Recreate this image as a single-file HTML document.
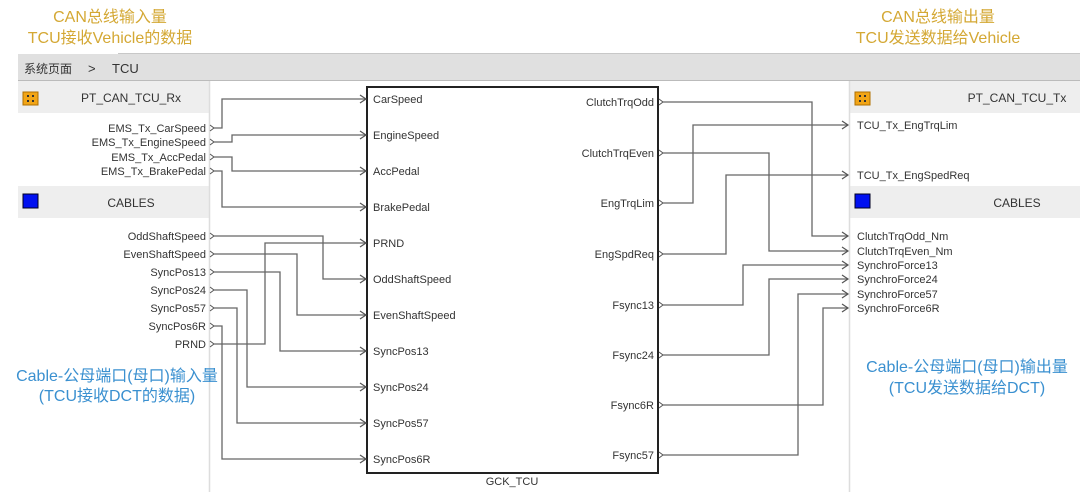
<!DOCTYPE html>
<html><head><meta charset="utf-8"><style>
body{margin:0;width:1080px;height:492px;background:#fff;overflow:hidden}
svg{display:block}
text{font-family:"Liberation Sans","Noto Sans CJK SC",sans-serif;fill:#333}
</style></head><body>
<svg width="1080" height="492" viewBox="0 0 1080 492">
<defs>
<marker id="a" markerWidth="10" markerHeight="10" refX="8" refY="5" orient="auto" markerUnits="userSpaceOnUse">
<path d="M2,1 L8,5 L2,9" fill="none" stroke="#555" stroke-width="1.2"/></marker>
</defs>
<g font-size="16" text-anchor="middle">
<text x="110" y="22" style="fill:#d4a834">CAN总线输入量</text>
<text x="110" y="43" style="fill:#d4a834">TCU接收Vehicle的数据</text>
<text x="938" y="22" style="fill:#d4a834">CAN总线输出量</text>
<text x="938" y="43" style="fill:#d4a834">TCU发送数据给Vehicle</text>
</g>
<rect x="18" y="54" width="1062" height="26" fill="#e0e0e0"/>
<line x1="118" y1="53.5" x2="1080" y2="53.5" stroke="#c8c8c8"/>
<line x1="18" y1="80.5" x2="1080" y2="80.5" stroke="#bbb"/>
<text x="24" y="73" font-size="12">系统页面</text>
<text x="88" y="73" font-size="13">&gt;</text>
<text x="112" y="73" font-size="13">TCU</text>
<rect x="18" y="81" width="191" height="32" fill="#eeeeee"/>
<rect x="18" y="186" width="191" height="32" fill="#eeeeee"/>
<line x1="209.5" y1="81" x2="209.5" y2="492" stroke="#ddd" stroke-width="1.5"/>
<rect x="23" y="92" width="15" height="13" fill="#f2a516" stroke="#b07000"/>
<g fill="#333"><rect x="27" y="95" width="2" height="2"/><rect x="32" y="95" width="2" height="2"/><rect x="27" y="100" width="2" height="2"/><rect x="32" y="100" width="2" height="2"/></g>
<rect x="23" y="194" width="15" height="14" fill="#0010f0" stroke="#002"/>
<g font-size="12" text-anchor="middle"><text x="131" y="102">PT_CAN_TCU_Rx</text><text x="131" y="207">CABLES</text></g>
<g font-size="11" text-anchor="end">
<text x="206" y="132">EMS_Tx_CarSpeed</text>
<text x="206" y="146">EMS_Tx_EngineSpeed</text>
<text x="206" y="161">EMS_Tx_AccPedal</text>
<text x="206" y="175">EMS_Tx_BrakePedal</text>
<text x="206" y="240">OddShaftSpeed</text>
<text x="206" y="258">EvenShaftSpeed</text>
<text x="206" y="276">SyncPos13</text>
<text x="206" y="294">SyncPos24</text>
<text x="206" y="312">SyncPos57</text>
<text x="206" y="330">SyncPos6R</text>
<text x="206" y="348">PRND</text>
</g>
<g font-size="16" text-anchor="middle">
<text x="117" y="381" style="fill:#3a90d0">Cable-公母端口(母口)输入量</text>
<text x="117" y="401" style="fill:#3a90d0">(TCU接收DCT的数据)</text>
<text x="967" y="372" style="fill:#3a90d0">Cable-公母端口(母口)输出量</text>
<text x="967" y="393" style="fill:#3a90d0">(TCU发送数据给DCT)</text>
</g>
<rect x="850" y="81" width="230" height="32" fill="#eeeeee"/>
<rect x="850" y="186" width="230" height="32" fill="#eeeeee"/>
<line x1="849.5" y1="81" x2="849.5" y2="492" stroke="#ddd" stroke-width="1.5"/>
<rect x="855" y="92" width="15" height="13" fill="#f2a516" stroke="#b07000"/>
<g fill="#333"><rect x="859" y="95" width="2" height="2"/><rect x="864" y="95" width="2" height="2"/><rect x="859" y="100" width="2" height="2"/><rect x="864" y="100" width="2" height="2"/></g>
<rect x="855" y="194" width="15" height="14" fill="#0010f0" stroke="#002"/>
<g font-size="12" text-anchor="middle"><text x="1017" y="102">PT_CAN_TCU_Tx</text><text x="1017" y="207">CABLES</text></g>
<g font-size="11">
<text x="857" y="129">TCU_Tx_EngTrqLim</text>
<text x="857" y="179">TCU_Tx_EngSpedReq</text>
<text x="857" y="240">ClutchTrqOdd_Nm</text>
<text x="857" y="255">ClutchTrqEven_Nm</text>
<text x="857" y="269">SynchroForce13</text>
<text x="857" y="283">SynchroForce24</text>
<text x="857" y="298">SynchroForce57</text>
<text x="857" y="312">SynchroForce6R</text>
</g>
<rect x="367" y="87" width="291" height="386" fill="none" stroke="#222" stroke-width="2"/>
<text x="512" y="485" font-size="11" text-anchor="middle">GCK_TCU</text>
<g font-size="11">
<text x="373" y="103">CarSpeed</text>
<text x="373" y="139">EngineSpeed</text>
<text x="373" y="175">AccPedal</text>
<text x="373" y="211">BrakePedal</text>
<text x="373" y="247">PRND</text>
<text x="373" y="283">OddShaftSpeed</text>
<text x="373" y="319">EvenShaftSpeed</text>
<text x="373" y="355">SyncPos13</text>
<text x="373" y="391">SyncPos24</text>
<text x="373" y="427">SyncPos57</text>
<text x="373" y="463">SyncPos6R</text>
</g>
<g font-size="11" text-anchor="end">
<text x="654" y="106">ClutchTrqOdd</text>
<text x="654" y="157">ClutchTrqEven</text>
<text x="654" y="207">EngTrqLim</text>
<text x="654" y="258">EngSpdReq</text>
<text x="654" y="309">Fsync13</text>
<text x="654" y="359">Fsync24</text>
<text x="654" y="409">Fsync6R</text>
<text x="654" y="459">Fsync57</text>
</g>
<g fill="none" stroke="#555" stroke-width="1">
<path d="M210,125 L214,128 L210,131 M210,139 L214,142 L210,145 M210,154 L214,157 L210,160 M210,168 L214,171 L210,174 M210,233 L214,236 L210,239 M210,251 L214,254 L210,257 M210,269 L214,272 L210,275 M210,287 L214,290 L210,293 M210,305 L214,308 L210,311 M210,323 L214,326 L210,329 M210,341 L214,344 L210,347"/>
<path d="M659,99 L663,102 L659,105 M659,150 L663,153 L659,156 M659,200 L663,203 L659,206 M659,251 L663,254 L659,257 M659,302 L663,305 L659,308 M659,352 L663,355 L659,358 M659,402 L663,405 L659,408 M659,452 L663,455 L659,458"/>
</g>
<g fill="none" stroke="#666" stroke-width="1.3" marker-end="url(#a)">
<path d="M214,128 H222 V99 H366"/>
<path d="M214,142 H232 V135 H366"/>
<path d="M214,157 H232 V171 H366"/>
<path d="M214,171 H222 V207 H366"/>
<path d="M214,236 H323 V279 H366"/>
<path d="M214,344 H265 V243 H366"/>
<path d="M214,254 H297 V315 H366"/>
<path d="M214,272 H280 V351 H366"/>
<path d="M214,290 H247 V387 H366"/>
<path d="M214,308 H237 V423 H366"/>
<path d="M214,326 H222 V459 H366"/>
<path d="M663,102 H812 V236 H848"/>
<path d="M663,153 H769 V251 H848"/>
<path d="M663,203 H693 V125 H848"/>
<path d="M663,254 H726 V175 H848"/>
<path d="M663,305 H743 V265 H848"/>
<path d="M663,355 H769 V279 H848"/>
<path d="M663,455 H798 V294 H848"/>
<path d="M663,405 H823 V308 H848"/>
</g>
</svg>
</body></html>
